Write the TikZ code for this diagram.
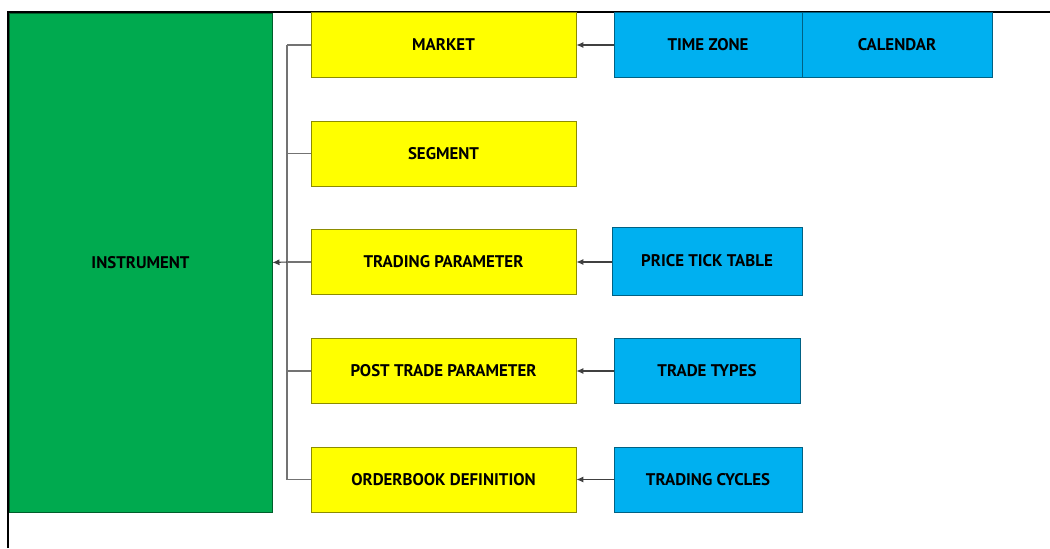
\documentclass[tikz,border=0pt]{standalone}
\usepackage{fontspec}
\setsansfont{PT Sans}
\definecolor{INSTcolor}{HTML}{00AA4F}
\definecolor{PARAMcolor}{HTML}{FFFF00}
\definecolor{REFcolor}{HTML}{00B0F0}
\usetikzlibrary{arrows.meta}

\begin{document}
\begin{tikzpicture}[x=0.02cm, y=-0.02cm]
    \tikzset{%
        box/.style={draw=#1!55!black, fill=#1, line width=0.5pt, inner sep=0pt,
                font=\sffamily\bfseries\fontsize{9.6pt}{9.6pt}\selectfont},
        instbox/.style={box=INSTcolor, minimum width=5.26cm, minimum height=9.98cm},
        parambox/.style={box=PARAMcolor, minimum width=5.3cm, minimum height=1.3cm},
        refbox/.style={box=REFcolor, minimum width=#1, minimum height=1.3cm},
        link/.style={draw=black!75, line width=0.6pt, -{Latex[length=4pt, width=3.5pt]}},
        bus/.style={draw=black!55, line width=0.8pt},
    }

    \useasboundingbox (0, 0) rectangle (1050, 548);
    % frame
    \draw [line width=1.3pt] (8, 548) -- (8, 12) -- (1050, 12);

    % instrument
    \node [instbox] (inst) at (140.5, 262.5) {INSTRUMENT};

    % parameters
    \foreach \name/\y/\txt in {market/45/MARKET, segment/153.5/SEGMENT,
            trading/262/TRADING PARAMETER, post/371/POST TRADE PARAMETER,
            orderbook/479.5/ORDERBOOK DEFINITION} {%
            \node [parambox] (\name) at (443.5, \y) {\txt};
        };

    % reference data
    \node [refbox=3.76cm] (timezone) at (708, 45) {TIME ZONE};
    \node [refbox=3.8cm] (calendar) at (897, 45) {CALENDAR};
    \node [refbox=3.8cm, minimum height=1.36cm] (pricetick) at (707, 261) {PRICE TICK TABLE};
    \node [refbox=3.72cm] (tradetypes) at (707, 371) {TRADE TYPES};
    \node [refbox=3.76cm] (cycles) at (708, 479.5) {TRADING CYCLES};

    % bus
    \coordinate (busmid) at (287, 262);
    \draw [bus] (market.west -| busmid) -- (orderbook.west -| busmid);
    \foreach \name in {market, segment, trading, post, orderbook} {%
            \draw [bus] (\name.west) -- (\name.west -| busmid);
        };
    \draw [link] (busmid) -- (inst.east);

    % links
    \draw [link] (timezone) -- (market);
    \draw [link] (pricetick.west |- trading) -- (trading);
    \draw [link] (tradetypes) -- (post);
    \draw [link] (cycles) -- (orderbook);
\end{tikzpicture}
\end{document}
